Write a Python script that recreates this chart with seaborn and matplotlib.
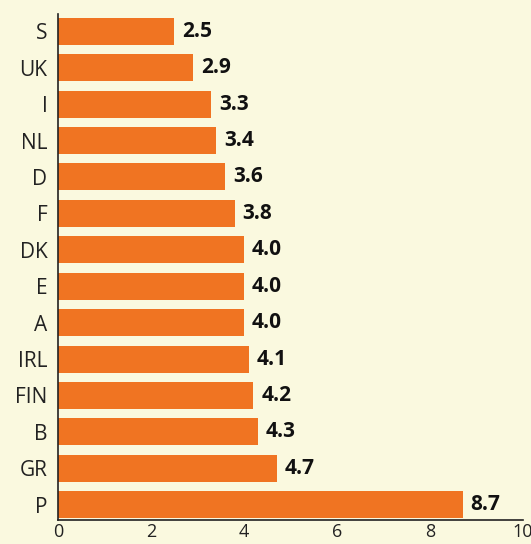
import matplotlib
matplotlib.use("Agg")
import matplotlib.pyplot as plt
import seaborn as sns
import pandas as pd

countries = ["S", "UK", "I", "NL", "D", "F", "DK", "E", "A", "IRL", "FIN", "B", "GR", "P"]
values = [2.5, 2.9, 3.3, 3.4, 3.6, 3.8, 4.0, 4.0, 4.0, 4.1, 4.2, 4.3, 4.7, 8.7]
xticks = [0, 2, 4, 6, 8, 10]

bg = "#FAF9DF"
bar_color = "#F07422"

sns.set_theme(style="white")
plt.rcParams['font.family'] = ['Open Sans', 'DejaVu Sans']

df = pd.DataFrame({"country": countries, "value": values})

fig = plt.figure(figsize=(5.31, 5.44), dpi=100, facecolor=bg)
ax = fig.add_axes([0.109, 0.044, 0.876, 0.930])
ax.set_facecolor(bg)

sns.barplot(data=df, x="value", y="country", color=bar_color, saturation=1,
            width=0.74, ax=ax, orient="h", linewidth=0, edgecolor="none")

for i, v in enumerate(values):
    ax.text(v + 0.17, i, f"{v:.1f}", va="center", ha="left",
            fontsize=15, fontweight="bold", color="#111111")

ax.set_xlim(0, 10)
ax.set_ylim(13.42, -0.47)
ax.set_xticks(xticks)
ax.set_xticklabels([str(t) for t in xticks])
ax.set_xlabel("")
ax.set_ylabel("")
ax.tick_params(axis="x", direction="in", length=5, width=1, color="#222222",
               labelsize=13, pad=2, labelcolor="#222222")
ax.tick_params(axis="y", length=0, labelsize=15, pad=7.5, labelcolor="#222222")
for s in ["top", "right"]:
    ax.spines[s].set_visible(False)
for s in ["left", "bottom"]:
    ax.spines[s].set_color("#222222")
    ax.spines[s].set_linewidth(1.2)
for lbl in ax.get_xticklabels():
    lbl.set_clip_on(False)

fig.savefig("out.png", dpi=100, facecolor=bg)
